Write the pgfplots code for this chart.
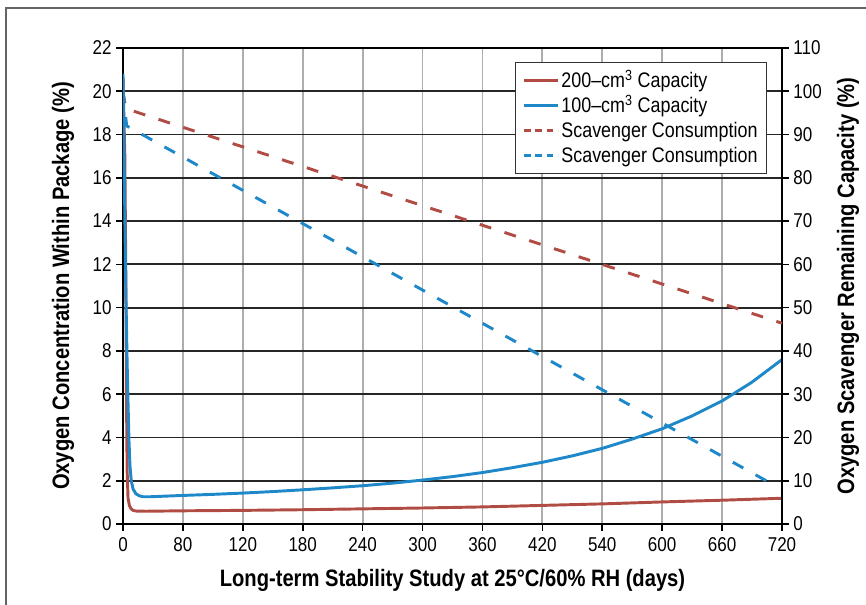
\documentclass[border=0pt]{standalone}
\usepackage{fontspec}
\setmainfont{Liberation Sans}[FakeStretch=0.85]
\usepackage{pgfplots}
\pgfplotsset{compat=1.18}
\definecolor{cred}{RGB}{176,76,68}
\definecolor{cblue}{RGB}{30,136,201}
\definecolor{framegray}{RGB}{100,100,100}
\begin{document}
\begin{tikzpicture}
\path[use as bounding box] (-92.25pt,-60pt) rectangle (557.25pt,393pt);
\draw[framegray, line width=1.5pt] (-88.1pt,-70pt) -- (-88.1pt,387pt) -- (570pt,387pt);
\pgfplotsset{
  myaxis/.style={
    at={(0,0)}, anchor=south west,
    scale only axis, width=494.25pt, height=357pt,
    xmin=0, xmax=720,
    /pgf/number format/assume math mode=true,
    tick align=outside, major tick length=5pt,
    tick style={black, line width=1.2pt},
    axis line style={black, line width=1.5pt},
    tick label style={font=\fontsize{15}{17}\selectfont},
    label style={font=\bfseries\fontsize{17.8}{21}\selectfont},
  }
}
\begin{axis}[myaxis,
  ymin=0, ymax=22,
  xtick={0,65.4545,130.909,196.364,261.818,327.273,392.727,458.182,523.636,589.091,654.545,720},
  xticklabels={0,80,120,180,240,300,360,420,540,600,660,720},
  ytick={0,2,...,22},
  xtick pos=bottom, ytick pos=left,
  xticklabel style={yshift=-1.5pt},
  xmajorgrids, ymajorgrids,
  x grid style={black!32, line width=1.3pt},
  y grid style={black!85, line width=1.3pt},
  xlabel={Long-term Stability Study at 25°C/60\% RH (days)},
  ylabel={Oxygen Concentration Within Package (\%)},
  xlabel style={at={(axis description cs:0.5,-0.1317)}, anchor=base},
  ylabel style={at={(axis description cs:-0.0910,0.5)}, anchor=center},
]
\addplot[cred, line width=2.2pt, line join=round] coordinates {
(0,20.6) (2,17) (3,12) (3.8,6) (4.5,2.5) (5.5,1.2) (7,0.85) (9,0.7) (11,0.63) (14,0.6) (25,0.59)
(65,0.61) (131,0.63) (196,0.66) (262,0.70) (327,0.74) (393,0.79) (458,0.86) (524,0.93) (589,1.02) (655,1.10) (720,1.19)
};
\addplot[cblue, line width=2.2pt, line join=round] coordinates {
(0,20.8) (1.5,16) (3,11) (4.5,7.5) (5.5,5.6) (6.5,3.9) (7.6,2.7) (9,2.0) (11,1.62) (14,1.4) (18,1.3) (22,1.26) (30,1.26)
(65,1.32) (98,1.37) (131,1.43) (164,1.50) (196,1.58) (229,1.67) (262,1.77) (295,1.89) (327,2.03) (360,2.19)
(393,2.38) (425,2.60) (458,2.85) (491,3.15) (524,3.50) (556,3.92) (589,4.40) (622,5.00) (655,5.70) (687,6.55) (720,7.60)
};
\end{axis}
\begin{axis}[myaxis,
  ymin=0, ymax=110,
  ytick={0,10,...,110},
  hide x axis, axis y line*=right,
  ylabel={Oxygen Scavenger Remaining Capacity (\%)},
  ylabel style={at={(axis description cs:1.1002,0.5)}, anchor=center},
  legend style={at={(rel axis cs:0.977,0.9706)}, anchor=north east,
    draw=black!80, line width=1pt, fill=white,
    font=\fontsize{15.8}{18}\selectfont,
    inner xsep=5pt, inner ysep=4pt, row sep=0pt,
    nodes={inner sep=1.5pt, text height=13.2pt, text depth=2.55pt}},
  legend cell align=left,
  legend image code/.code={\draw[#1, line width=2.2pt] (0pt,0pt) -- (25.5pt,0pt);},
]
\addlegendimage{cred}
\addlegendentry{200–cm\textsuperscript{3} Capacity}
\addlegendimage{cblue}
\addlegendentry{100–cm\textsuperscript{3} Capacity}
\addlegendimage{cred, dash pattern=on 5pt off 3.5pt}
\addlegendentry{Scavenger Consumption}
\addlegendimage{cblue, dash pattern=on 5pt off 3.5pt}
\addlegendentry{Scavenger Consumption}
\addplot[forget plot, cred, line width=2.2pt, dash pattern=on 9pt off 10.5pt] coordinates {
(0,100) (3,96) (720,46.4)
};
\addplot[forget plot, cblue, line width=2.2pt, dash pattern=on 9pt off 10.5pt] coordinates {
(0,100) (4,92) (707,9.5)
};
\end{axis}
\end{tikzpicture}
\end{document}
